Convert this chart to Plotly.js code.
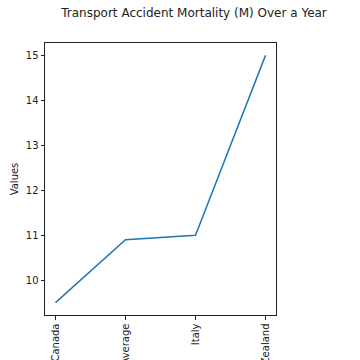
<!DOCTYPE html>
<html>
<head>
<meta charset="utf-8">
<script src="https://cdn.plot.ly/plotly-3.0.1.min.js"></script>
<style>html,body{margin:0;padding:0;background:#fff;}#chart{width:360px;height:360px;}</style>
</head>
<body>
<div id="chart"></div>
<script>
const categories = ["Canada", "OECD - Average", "Italy", "New Zealand"];
const values = [9.5, 10.9, 11.0, 15.0];
const yTicks = [10, 11, 12, 13, 14, 15];

const axisCommon = {
  showline: true, mirror: true, linecolor: '#222', linewidth: 1,
  ticks: 'outside', ticklen: 3.5, tickwidth: 1, tickcolor: '#222',
  showgrid: false, zeroline: false,
  tickfont: {family: 'DejaVu Sans', size: 10, color: '#222'}
};

Plotly.newPlot('chart', [{
  x: [0, 1, 2, 3], y: values, type: 'scatter', mode: 'lines',
  line: {color: '#1f77b4', width: 1.5}
}], {
  width: 360, height: 360,
  margin: {l: 45, r: 84, t: 43, b: 45},
  paper_bgcolor: '#fff', plot_bgcolor: '#fff',
  showlegend: false,
  font: {family: 'DejaVu Sans', color: '#222'},
  title: {text: 'Transport Accident Mortality (M) Over a Year', xref: 'container', x: 0.539, xanchor: 'center', yref: 'container', y: 0.965, yanchor: 'middle', font: {family: 'DejaVu Sans', size: 12, color: '#222'}},
  xaxis: Object.assign({}, axisCommon, {
    range: [-0.15, 3.15], tickmode: 'array', tickvals: [0, 1, 2, 3], ticktext: categories, tickangle: -90
  }),
  yaxis: Object.assign({}, axisCommon, {
    range: [9.225, 15.275], tickmode: 'array', tickvals: yTicks, ticktext: yTicks.map(String),
    title: {text: 'Values', font: {family: 'DejaVu Sans', size: 10, color: '#222'}, standoff: 5}
  })
}, {staticPlot: true, displayModeBar: false});
</script>
</body>
</html>
